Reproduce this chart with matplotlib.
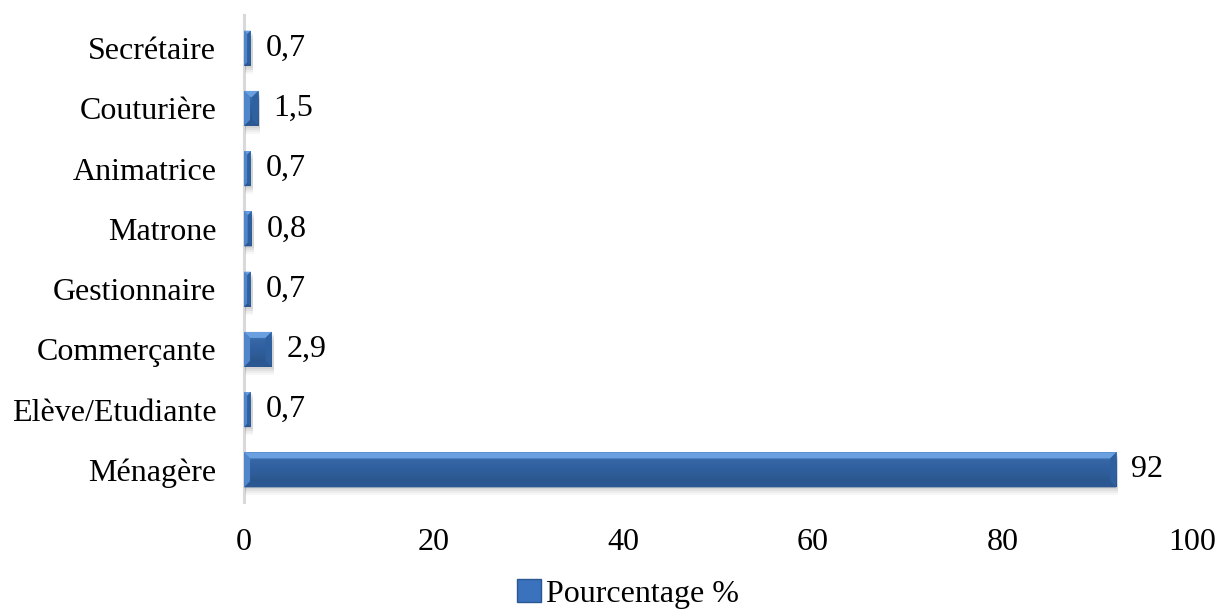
import numpy as np
import matplotlib.pyplot as plt
from matplotlib.colors import LinearSegmentedColormap
from matplotlib.patches import Polygon, Rectangle

plt.rcParams['font.family'] = ['Liberation Serif', 'DejaVu Serif']

categories = ['Ménagère', 'Elève/Etudiante', 'Commerçante', 'Gestionnaire',
              'Matrone', 'Animatrice', 'Couturière', 'Secrétaire']
values = [92, 0.7, 2.9, 0.7, 0.8, 0.7, 1.5, 0.7]
labels = ['92', '0,7', '2,9', '0,7', '0,8', '0,7', '1,5', '0,7']
xticks = [0, 20, 40, 60, 80, 100]

face = '#3a72bd'
light = '#6a9fe0'
dark = '#2b5892'
fs = 23

fig = plt.figure(figsize=(12.19, 6.12), dpi=100)
ax = fig.add_axes([0.2002, 0.18, 0.7777, 0.7955])

y = np.arange(len(categories))
bars = ax.barh(y, values, height=0.58, color=face, edgecolor='none', zorder=2)
ax.set_xlim(0, 100)
ax.set_ylim(-0.53, 7.55)
ax.set_yticks(y)
ax.set_yticklabels(categories, fontsize=fs)
ax.set_xticks(xticks)
ax.set_xticklabels([str(t) for t in xticks], fontsize=fs)
ax.tick_params(axis='y', length=0, pad=20)
ax.tick_params(axis='x', length=0, pad=19)
for s in ['top', 'right', 'bottom']:
    ax.spines[s].set_visible(False)
ax.spines['left'].set_color('#d9d9d9')
ax.spines['left'].set_linewidth(2.2)

for b, lab in zip(bars, labels):
    ax.annotate(lab, (b.get_width(), b.get_y() + b.get_height() / 2),
                xytext=(15, 0), textcoords='offset pixels',
                va='center', ha='left', fontsize=fs)

# bevelled bars, edges drawn in pixel space
cmap = LinearSegmentedColormap.from_list('bar', ['#31639f', '#3b74bf', '#4a84cc'])
fig.canvas.draw()
for b in bars:
    (x0, y0), (x1, y1) = ax.transData.transform(
        [(b.get_x(), b.get_y()), (b.get_x() + b.get_width(), b.get_y() + b.get_height())])
    bw = min(6, (x1 - x0) / 2)
    for k, a in enumerate([0.05, 0.05, 0.04, 0.03]):
        fig.patches.append(Rectangle((x0 + 1, y0 - 2 - 2 * k), x1 - x0 + 1, y1 - y0, transform=None,
                                     facecolor='#000000', alpha=a, edgecolor='none', zorder=1))
    ax.imshow(np.linspace(0, 1, 50).reshape(-1, 1),
              extent=(b.get_x(), b.get_x() + b.get_width(), b.get_y(), b.get_y() + b.get_height()),
              aspect='auto', cmap=cmap, origin='lower', zorder=3)
    edges = [
        ([(x0, y1), (x1, y1), (x1 - bw, y1 - bw), (x0 + bw, y1 - bw)], light),
        ([(x0, y0), (x1, y0), (x1 - bw, y0 + bw), (x0 + bw, y0 + bw)], dark),
        ([(x0, y0), (x0, y1), (x0 + bw, y1 - bw), (x0 + bw, y0 + bw)], '#4f86cc'),
        ([(x1, y0), (x1, y1), (x1 - bw, y1 - bw), (x1 - bw, y0 + bw)], '#2f609f'),
    ]
    for pts, c in edges:
        fig.patches.append(Polygon(pts, closed=True, transform=None,
                                   facecolor=c, edgecolor='none', zorder=4))
ax.set_xlim(0, 100)

handle = Rectangle((0, 0), 1, 1, facecolor=face, edgecolor=dark)
fig.legend([handle], ['Pourcentage %'], loc='center left', bbox_to_anchor=(0.424, 0.03),
           frameon=False, fontsize=fs, handlelength=0.75, handleheight=0.75,
           handletextpad=0.15, borderpad=0, borderaxespad=0)

fig.savefig('out.png', dpi=100)
